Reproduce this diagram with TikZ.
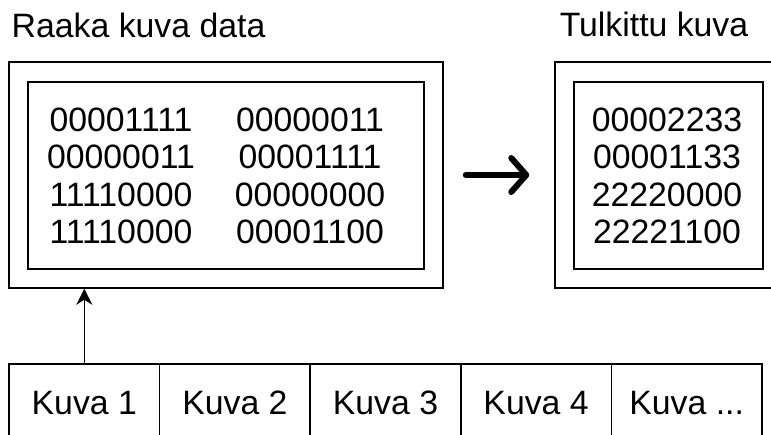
\documentclass[tikz,border=0pt]{standalone}
\usepackage{fontspec}
\setmainfont{Liberation Sans}
\usetikzlibrary{arrows.meta}
\newcommand{\kuvadots}{...}

\begin{document}
\begin{tikzpicture}[x=1pt, y=-1pt, line width=1.5pt,
		every node/.style={font=\fontsize{33.8}{37.3}\selectfont, inner sep=0pt},
		box/.style={draw, rectangle},
		cell/.style={draw, rectangle, minimum width=150.6pt, minimum height=76pt, text height=24pt, text depth=0pt}]
	\clip (0,0) rectangle (771,434);
	\useasboundingbox (0,0) rectangle (771,434);
	% otsikot
	\node[anchor=base west] (t1) at (11,37) {Raaka kuva data};
	\node[anchor=base west] (t2) at (559,36) {Tulkittu kuva};
	
	% raaka data
	\node[box, minimum width=434pt, minimum height=226pt] (raw) at (226,175) {};
	\node[box, minimum width=396pt, minimum height=187pt] (rawin) at (226,175.5) {};
	\node[align=center] (c1) at (121,176) {00001111\\00000011\\11110000\\11110000};
	\node[align=center] (c2) at (310,176) {00000011\\00001111\\00000000\\00001100};
	
	% tulkittu kuva
	\node[box, minimum width=227pt, minimum height=226pt] (out) at (668.5,175) {};
	\node[box, minimum width=189pt, minimum height=187pt] (outin) at (668.5,175.5) {};
	\node[align=center] (c3) at (667,176) {00002233\\00001133\\22220000\\22221100};
	
	\draw[line width=6pt, line cap=round, -{Straight Barb[length=15pt, width=34pt, line cap=round, line join=round]}, shorten <=22pt, shorten >=25pt] (raw.east) -- (out.west);
	
	% kuvajono
	\foreach \i/\lab in {1/Kuva 1, 2/Kuva 2, 3/Kuva 3, 4/Kuva 4, 5/Kuva \kuvadots}
		\node[cell] (k\i) at ({9+150.6*(\i-0.5)},402) {\lab};
	\draw[-{Stealth[length=16pt, width=16pt, inset=5pt]}] (k1.north) -- (k1.north |- raw.south);
\end{tikzpicture}
\end{document}
